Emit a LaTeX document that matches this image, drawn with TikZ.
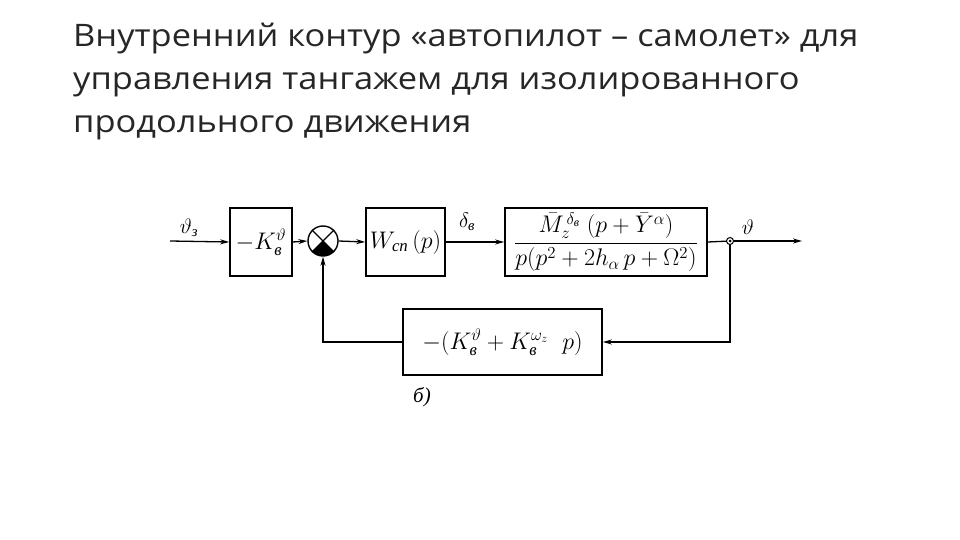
\RequirePackage{fix-cm}
\documentclass[tikz,border=0pt]{standalone}
\usepackage{fontspec}
\usepackage{amsmath}
\setmainfont{Open Sans}[FakeStretch=1.11]
\newfontfamily\cyr{Liberation Serif}
\newcommand{\cv}{\text{\cyr\itshape в}}
\newcommand{\cz}{\text{\cyr\itshape з}}
\newcommand{\csp}{\text{\cyr\itshape сп}}
\usetikzlibrary{arrows.meta}
\begin{document}
\begin{tikzpicture}[x=1pt,y=-1pt,
  blk/.style={draw,line width=1.6pt,inner sep=0pt,font=\fontsize{24}{27}\selectfont},
  wire/.style={line width=1.3pt},
  arr/.style={wire,-{Stealth[length=9pt,width=5pt]}},
  lab/.style={font=\fontsize{21}{23}\selectfont},
  ttl/.style={anchor=base west,inner sep=0pt,text=black!85,font=\fontsize{31}{43}\selectfont}]
\useasboundingbox (0,0) rectangle (960,540);
\node[ttl] (t1) at (73,47) {Внутренний контур «автопилот – самолет» для};
\node[ttl] (t2) at (73,90) {управления тангажем для изолированного};
\node[ttl] (t3) at (73,133) {продольного движения};
\coordinate (in) at (170,241);
\node[blk,minimum width=62pt,minimum height=68pt] (b1) at (261,242) {$-K_{\cv}^{\vartheta}$};
\node[draw,circle,line width=1.4pt,minimum size=30pt,inner sep=0pt] (sum) at (323,241) {};
\node[blk,minimum width=79pt,minimum height=68pt] (b2) at (405.5,242) {$W_{\csp}\,(p)$};
\node[blk,minimum width=202pt,minimum height=68pt] (b3) at (606,242)
  {$\dfrac{\bar M_z^{\,\delta_{\cv}}\;(p+\bar Y^{\alpha})}{p(p^2+2h_{\alpha}\,p+\Omega^2)}$};
\node[blk,minimum width=199pt,minimum height=66pt] (b4) at (502.5,342) {$-(K_{\cv}^{\vartheta}+K_{\cv}^{\omega_z}\ \ p)$};
\coordinate (br) at (730,241);
\coordinate (out) at (802,241);
% sum decoration
\fill (sum.center) -- +(45:15) arc[start angle=45,end angle=135,radius=15] -- cycle;
\draw[line width=1.2pt] (sum.45) -- (sum.225) (sum.135) -- (sum.315);
% connectors
\draw[arr] (in) -- (b1.west);
\draw[arr] (b1.east) -- (sum.west);
\draw[arr] (sum.east) -- (b2.west);
\draw[arr] (b2.east) -- (b3.west);
\draw[wire] (b3.east) -- (br);
\draw[arr] (br) -- (out);
\draw[arr] (br) |- (b4.east);
\draw[arr] (b4.west) -| (sum.south);
\filldraw[line width=1pt,fill=white] (br) circle[radius=3.5pt];
\fill (br) circle[radius=1.5pt];
% labels
\node[lab] (l1) at (189,228) {$\vartheta_{\cz}$};
\node[lab] (l2) at (467,222) {$\delta_{\cv}$};
\node[lab] (l3) at (748,227) {$\vartheta$};
\node[lab] (l4) at (422,397) {\cyr\itshape б)};
\end{tikzpicture}
\end{document}
